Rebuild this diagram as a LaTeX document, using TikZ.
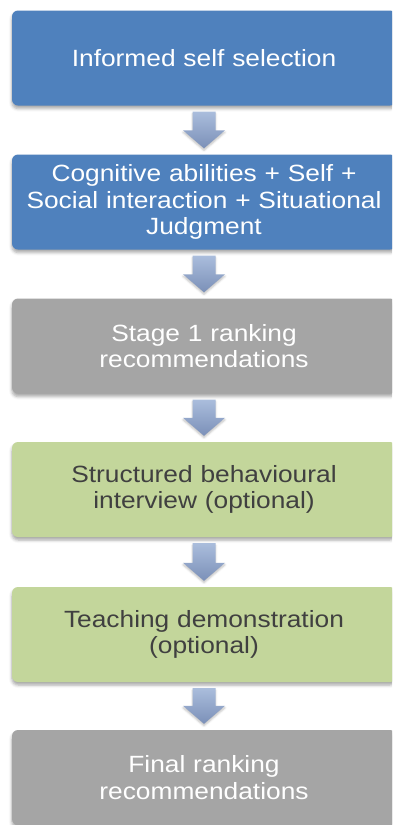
\documentclass[tikz,border=0pt]{standalone}
\usepackage{fontspec}
\setmainfont{Liberation Sans}[FakeStretch=1.12]
\usetikzlibrary{calc,shadows.blur}

\definecolor{stepblue}{HTML}{4F81BD}
\definecolor{stepgray}{HTML}{A5A5A5}
\definecolor{stepgreen}{HTML}{C3D69B}
\definecolor{darktext}{HTML}{404040}
\definecolor{arrowtop}{HTML}{AABDDC}
\definecolor{arrowbottom}{HTML}{7B90B8}

\begin{document}
\begin{tikzpicture}[x=1pt,y=1pt,
  stage/.style={rounded corners=6pt, minimum width=384pt, minimum height=95pt,
    text width=380pt, align=center, inner sep=0pt,
    font=\fontsize{23.5}{26.7}\selectfont,
    blur shadow={shadow xshift=0pt, shadow yshift=-3pt,
      shadow blur radius=3pt, shadow opacity=35}},
  bluestage/.style={stage, fill=stepblue, text=white},
  graystage/.style={stage, fill=stepgray, text=white},
  greenstage/.style={stage, fill=stepgreen, text=darktext},
  flowarrow/.style={top color=arrowtop, bottom color=arrowbottom,
    blur shadow={shadow xshift=0pt, shadow yshift=-2pt,
      shadow blur radius=2pt, shadow opacity=25}}
]
\useasboundingbox (0,0) rectangle (392,-825);
\clip (0,0) rectangle (392,-825);

% the six stages of the selection process
\node[bluestage]  (s1) at (204,-58)    {Informed self selection};
\node[bluestage]  (s2) at (204,-202)   {Cognitive abilities + Self +\\Social interaction + Situational\\Judgment};
\node[graystage]  (s3) at (204,-346)   {Stage 1 ranking\\recommendations};
\node[greenstage] (s4) at (204,-489.5) {Structured behavioural\\interview (optional)};
\node[greenstage] (s5) at (204,-634.5) {Teaching demonstration\\(optional)};
\node[graystage]  (s6) at (204,-777.5) {Final ranking\\recommendations};

% block arrow from one stage to the next
\newcommand{\stagearrow}[2]{%
  \path[flowarrow] let \p1=($(#1.south)+(0,-6)$), \p2=($(#2.north)+(0,6)$) in
    ({\x1-11.5},\y1) -- ({\x1+11.5},\y1) -- ({\x1+11.5},{\y2+18})
    -- ({\x1+21},{\y2+18}) -- (\x1,\y2) -- ({\x1-21},{\y2+18})
    -- ({\x1-11.5},{\y2+18}) -- cycle;}

\stagearrow{s1}{s2}
\stagearrow{s2}{s3}
\stagearrow{s3}{s4}
\stagearrow{s4}{s5}
\stagearrow{s5}{s6}
\end{tikzpicture}
\end{document}
